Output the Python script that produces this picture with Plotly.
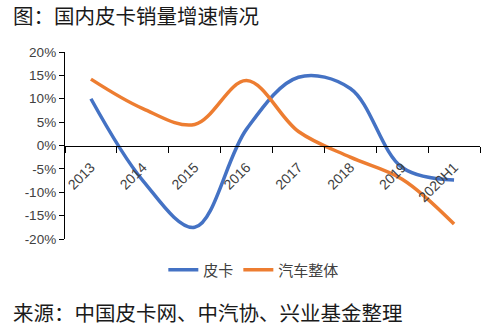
import plotly.graph_objects as go

categories = ["2013", "2014", "2015", "2016", "2017", "2018", "2019", "2020H1"]
pickup = [10.0, -7.5, -17.5, 3.5, 14.6, 12.2, -4.7, -7.4]
auto_total = [14.2, 7.9, 4.5, 13.9, 3.0, -2.5, -7.2, -16.8]
ytick_vals = [20, 15, 10, 5, 0, -5, -10, -15, -20]
ytick_text = ["20%", "15%", "10%", "5%", "0%", "-5%", "-10%", "-15%", "-20%"]

fig = go.Figure()
fig.add_trace(go.Scatter(x=categories, y=pickup, name="皮卡", mode="lines",
                         line=dict(color="#4472C4", width=3.5, shape="spline", smoothing=1)))
fig.add_trace(go.Scatter(x=categories, y=auto_total, name="汽车整体", mode="lines",
                         line=dict(color="#ED7D31", width=3.5, shape="spline", smoothing=1)))

fig.update_layout(
    width=490, height=333,
    margin=dict(l=65, r=10, t=52, b=94),
    paper_bgcolor="white", plot_bgcolor="white",
    font=dict(family="Liberation Sans, Arial, sans-serif", size=13, color="#404040"),
    showlegend=True,
    legend=dict(orientation="h", x=0.455, xanchor="center", y=-(270 - 239) / 187, yanchor="middle",
                font=dict(family="Noto Sans CJK SC", size=15, color="#404040"),
                itemwidth=30, tracegroupgap=0),
    xaxis=dict(type="category", range=[-0.5, 7.5], anchor="free", position=0.5,
               showline=True, linecolor="black", linewidth=1.3,
               ticks="outside", tickson="boundaries", ticklen=6, tickcolor="black",
               tickangle=-45, showgrid=False, zeroline=False, ticklabelstandoff=7,
               tickfont=dict(size=14, color="#404040")),
    yaxis=dict(range=[-20, 20], tickvals=ytick_vals, ticktext=ytick_text,
               showline=True, linecolor="black", linewidth=1.3,
               ticks="outside", ticklen=5, tickcolor="black",
               showgrid=False, zeroline=False,
               tickfont=dict(size=13.5, color="#404040")),
)

fig.add_annotation(text="图：国内皮卡销量增速情况", xref="paper", yref="paper",
                   x=0, y=1, xanchor="left", yanchor="middle", showarrow=False,
                   xshift=-54, yshift=52 - 15,
                   font=dict(family="Noto Sans CJK SC", size=20.5, color="#1a1a1a"))
fig.add_annotation(text="来源：中国皮卡网、中汽协、兴业基金整理", xref="paper", yref="paper",
                   x=0, y=0, xanchor="left", yanchor="middle", showarrow=False,
                   xshift=-54, yshift=-(312 - 239),
                   font=dict(family="Noto Sans CJK SC", size=20.5, color="#1a1a1a"))

fig.write_html("out.html")
